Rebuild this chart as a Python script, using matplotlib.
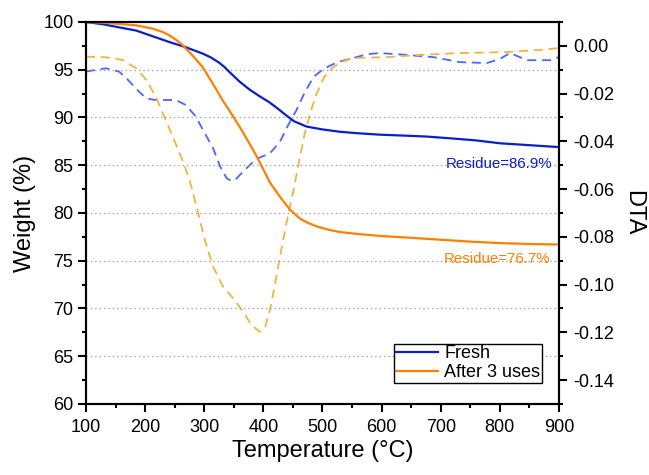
import numpy as np
import matplotlib
matplotlib.use("Agg")
import matplotlib.pyplot as plt
from matplotlib.ticker import MultipleLocator, FormatStrFormatter

plt.rcParams['font.family'] = ['Liberation Sans', 'DejaVu Sans']
plt.rcParams['axes.unicode_minus'] = False

# TGA weight curves (%)
fresh_t = [100, 130, 156, 185, 213, 241, 269, 297, 311, 325, 334, 342, 359, 376,
           393, 410, 425, 438, 452, 473, 500, 530, 560, 597, 640, 677, 720, 760,
           800, 850, 900]
fresh_w = [100.0, 99.75, 99.44, 99.1, 98.5, 97.9, 97.35, 96.7, 96.3, 95.75, 95.3,
           94.8, 93.8, 92.95, 92.25, 91.6, 90.9, 90.25, 89.6, 89.05, 88.75, 88.5,
           88.35, 88.2, 88.1, 88.0, 87.8, 87.6, 87.3, 87.1, 86.9]

used_t = [100, 130, 156, 185, 213, 230, 241, 252, 263, 280, 297, 314, 331, 348,
          366, 389, 411, 428, 445, 462, 476, 490, 510, 530, 560, 597, 650, 700,
          750, 800, 850, 900]
used_w = [100.0, 99.92, 99.8, 99.65, 99.3, 98.95, 98.6, 98.15, 97.6, 96.5, 95.3,
          93.6, 91.8, 90.2, 88.4, 85.9, 83.2, 81.7, 80.35, 79.4, 78.95, 78.6, 78.25,
          78.0, 77.8, 77.6, 77.4, 77.2, 77.0, 76.85, 76.75, 76.7]

# DTA signals
fresh_dta_t = [100, 118, 134, 156, 167, 179, 191, 202, 215, 230, 252, 269, 286, 298,
               315, 327, 338, 346, 353, 360, 380, 391, 411, 428, 442, 456, 470, 485,
               500, 515, 530, 552, 575, 597, 643, 687, 732, 778, 800, 817, 846, 890,
               900]
fresh_dta = [-0.0108, -0.0100, -0.0094, -0.0108, -0.0132, -0.0164, -0.0195, -0.0220,
             -0.0226, -0.0227, -0.0227, -0.0248, -0.0297, -0.0353, -0.0429, -0.0506,
             -0.0555, -0.0565, -0.0560, -0.0541, -0.0492, -0.0471, -0.0450, -0.0402,
             -0.0332, -0.0269, -0.0195, -0.0130, -0.0100, -0.0080, -0.0065, -0.0051,
             -0.0035, -0.0030, -0.0038, -0.0047, -0.0068, -0.0072, -0.0055, -0.0030,
             -0.0060, -0.0060, -0.0045]

used_dta_t = [100, 134, 162, 185, 202, 218, 235, 250, 265, 276, 290, 301, 315, 332,
              349, 366, 380, 394, 403, 411, 420, 428, 439, 451, 462, 470, 479, 490,
              503, 518, 535, 552, 609, 665, 732, 812, 868, 900]
used_dta = [-0.0045, -0.0048, -0.0059, -0.0094, -0.0143, -0.0213, -0.0311, -0.0400,
            -0.0490, -0.0569, -0.0702, -0.0813, -0.0925, -0.1009, -0.1058, -0.1114,
            -0.1170, -0.1198, -0.1177, -0.1107, -0.0995, -0.0883, -0.0743, -0.0604,
            -0.0464, -0.0366, -0.0283, -0.0200, -0.0130, -0.0089, -0.0065, -0.0051,
            -0.0047, -0.0038, -0.0030, -0.0026, -0.0017, -0.0009]

residues = [86.9, 76.7]
labels = ['Fresh', 'After 3 uses']
tga_colors = ['#0A1ECC', '#FF7F00']
dta_colors = ['#4A66FF', '#F0B43C']

fig = plt.figure(figsize=(6.49, 4.75), dpi=100)
ax = fig.add_axes([0.1325, 0.1495, 0.7288, 0.8042])
ax2 = ax.twinx()

# DTA curves go underneath the weight curves
ax2.plot(fresh_dta_t, fresh_dta, color=dta_colors[0], lw=1.3, dashes=(5, 3.2))
ax2.plot(used_dta_t, used_dta, color=dta_colors[1], lw=1.3, dashes=(5, 3.2))

ax.plot(fresh_t, fresh_w, color=tga_colors[0], lw=1.6, label=labels[0])
ax.plot(used_t, used_w, color=tga_colors[1], lw=1.6, label=labels[1])
ax.set_zorder(ax2.get_zorder() + 1)
ax.patch.set_visible(False)

ax.text(888, fresh_w[-1] - 1.75, f'Residue={residues[0]}%', color=tga_colors[0],
        fontsize=10.8, ha='right', va='center')
ax.text(885, used_w[-1] - 1.5, f'Residue={residues[1]}%', color=tga_colors[1],
        fontsize=10.8, ha='right', va='center')

ax.set_xlim(100, 900)
ax.set_ylim(60, 100)
ax2.set_ylim(-0.15, 0.01)

ax.xaxis.set_major_locator(MultipleLocator(100))
ax.xaxis.set_minor_locator(MultipleLocator(50))
ax.yaxis.set_major_locator(MultipleLocator(5))
ax.yaxis.set_minor_locator(MultipleLocator(2.5))
ax2.yaxis.set_major_locator(MultipleLocator(0.02))
ax2.yaxis.set_minor_locator(MultipleLocator(0.01))
ax2.yaxis.set_major_formatter(FormatStrFormatter('%.2f'))

ax.yaxis.grid(True, which='major', linestyle=(0, (1, 2.5)), color='#999999', lw=0.9)

for a in (ax, ax2):
    for sp in a.spines.values():
        sp.set_linewidth(1.5)
ax.tick_params(which='both', direction='out', width=1.5, labelsize=13, top=False, right=False)
ax.tick_params(which='major', length=6)
ax.tick_params(which='minor', length=3)
ax.tick_params(axis='y', pad=3)
ax.tick_params(axis='x', pad=5)
ax2.tick_params(which='both', direction='out', width=1.5, labelsize=13, pad=4)
ax2.tick_params(which='major', length=6)
ax2.tick_params(which='minor', length=3)

ax.set_xlabel('Temperature (°C)', fontsize=17, labelpad=3)
ax.set_ylabel('Weight (%)', fontsize=17, labelpad=5)
ax2.set_ylabel('DTA', fontsize=17, rotation=270, labelpad=22)

leg = ax.legend(loc='lower right', bbox_to_anchor=(0.964, 0.055), borderaxespad=0,
                fontsize=13, fancybox=False, edgecolor='black', framealpha=1,
                borderpad=0.1, handlelength=2.3, handletextpad=0.35,
                labelspacing=0.1)
leg.get_frame().set_linewidth(1.0)

fig.savefig('out.png', dpi=100)
